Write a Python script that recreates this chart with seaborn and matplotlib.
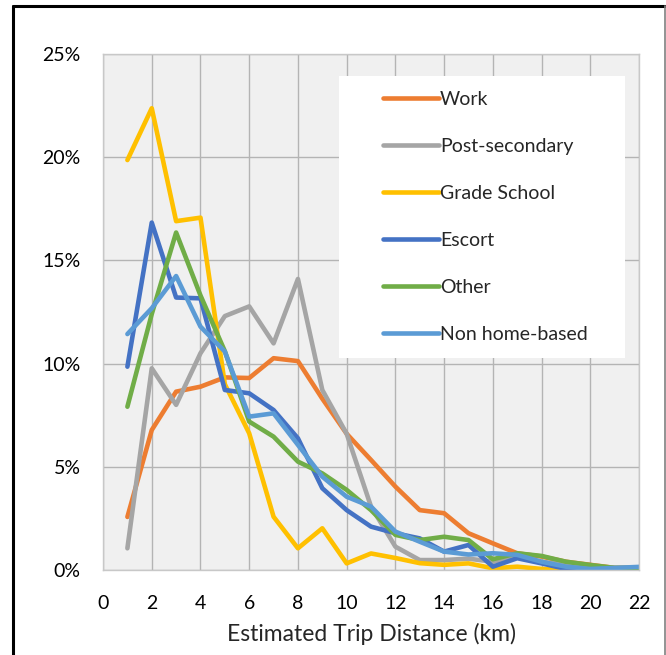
import numpy as np
import pandas as pd
import seaborn as sns
import matplotlib.pyplot as plt
from matplotlib.patches import Rectangle
from matplotlib.lines import Line2D

# ── data (share of trips, %) ──
distance = list(range(1, 23))
work = [2.57, 6.78, 8.64, 8.88, 9.33, 9.30, 10.26, 10.12, 8.3, 6.6, 5.33, 4.04,
        2.9, 2.75, 1.78, 1.29, 0.81, 0.65, 0.4, 0.25, 0.1, 0.1]
post_secondary = [1.05, 9.77, 8.0, 10.5, 12.3, 12.77, 10.98, 14.1, 8.72, 6.6, 3.07, 1.13,
                  0.48, 0.48, 0.55, 0.4, 0.6, 0.4, 0.25, 0.15, 0.1, 0.1]
grade_school = [19.86, 22.37, 16.9, 17.07, 9.0, 6.62, 2.58, 1.05, 2.02, 0.32, 0.8, 0.58,
                0.33, 0.25, 0.32, 0.08, 0.16, 0.05, 0.02, 0.02, 0.02, 0.02]
escort = [9.85, 16.83, 13.2, 13.16, 8.72, 8.56, 7.75, 6.38, 3.96, 2.9, 2.1, 1.78,
          1.53, 0.89, 1.21, 0.16, 0.57, 0.32, 0.05, 0.03, 0.03, 0.1]
other = [7.91, 12.4, 16.35, 13.3, 10.6, 7.19, 6.46, 5.25, 4.68, 3.88, 2.9, 1.7,
         1.45, 1.61, 1.45, 0.52, 0.81, 0.68, 0.4, 0.24, 0.1, 0.1]
non_home_based = [11.43, 12.68, 14.24, 11.79, 10.58, 7.43, 7.59, 6.06, 4.52, 3.55, 3.07, 1.86,
                  1.37, 0.89, 0.75, 0.81, 0.73, 0.4, 0.16, 0.05, 0.1, 0.15]

purposes = ["Work", "Post-secondary", "Grade School", "Escort", "Other", "Non home-based"]
colors = ["#ED7D31", "#A5A5A5", "#FFC000", "#4472C4", "#70AD47", "#5B9BD5"]
series = [work, post_secondary, grade_school, escort, other, non_home_based]

df = pd.concat(
    [pd.DataFrame({"distance": distance, "share": s, "purpose": p}) for p, s in zip(purposes, series)],
    ignore_index=True,
)

# ── style ──
sns.set_style("white")
plt.rcParams["font.family"] = ["Lato", "DejaVu Sans"]
FS = 14

fig = plt.figure(figsize=(6.66, 6.55), dpi=100)
ax = fig.add_axes([0.1547, 0.1298, 0.8048, 0.7878])
ax.set_facecolor("#F0F0F0")

sns.lineplot(
    data=df, x="distance", y="share", hue="purpose", hue_order=purposes,
    palette=dict(zip(purposes, colors)), linewidth=3.3, sort=False, ax=ax,
    legend=False, solid_joinstyle="round", solid_capstyle="round",
)

ax.set_xlim(0, 22)
ax.set_ylim(0, 25)
ax.set_xticks(range(0, 23, 2))
ax.set_yticks(range(0, 26, 5))
ax.set_yticklabels([f"{v}%" for v in range(0, 26, 5)])
ax.grid(True, color="#B4B4B4", linewidth=1.0)
ax.set_axisbelow(True)
ax.tick_params(axis="both", length=0, labelsize=FS, colors="black")
ax.tick_params(axis="y", pad=16)
ax.tick_params(axis="x", pad=18)
for sp in ax.spines.values():
    sp.set_color("#C8C8C8")
    sp.set_linewidth(1.0)
ax.set_xlabel("Estimated Trip Distance (km)", fontsize=16.5, labelpad=8)
ax.set_ylabel("")

# legend box
ax.add_patch(Rectangle((0.44, 0.411), 0.534, 0.546, transform=ax.transAxes,
                       facecolor="white", edgecolor="none", zorder=3))
handles = [Line2D([], [], color=c, linewidth=3.3, solid_capstyle="round") for c in colors]
leg = ax.legend(handles, purposes, loc="upper left", bbox_to_anchor=(0.522, 0.929),
                frameon=False, fontsize=FS, borderaxespad=0, borderpad=0,
                handlelength=2.9, handletextpad=0.05, labelspacing=1.55)
leg.set_zorder(4)

# outer frame
fig.add_artist(Line2D([0.0195, 0.0195], [0, 0.9908], color="black", linewidth=2.2,
                      transform=fig.transFigure))
fig.add_artist(Line2D([0.0195, 0.9985], [0.9908, 0.9908], color="black", linewidth=2.2,
                      transform=fig.transFigure))
fig.add_artist(Line2D([0.9985, 0.9985], [0, 0.9908], color="#808080", linewidth=1.2,
                      transform=fig.transFigure))

fig.savefig("out.png", dpi=100)
